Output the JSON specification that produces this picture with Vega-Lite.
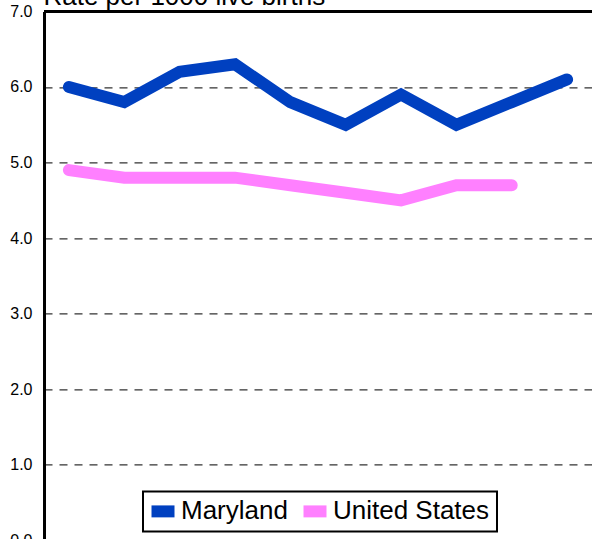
{
  "$schema": "https://vega.github.io/schema/vega-lite/v6.json",
  "width": 548,
  "height": 529,
  "autosize": {"type": "none"},
  "padding": {"left": 44, "top": 11.4, "right": 0, "bottom": 0},
  "background": "white",
  "config": {
    "view": {"stroke": null},
    "font": "Liberation Sans"
  },
  "data": {
    "values": [
      {"year": "2003", "area": "Maryland", "rate": 6.0},
      {"year": "2004", "area": "Maryland", "rate": 5.8},
      {"year": "2005", "area": "Maryland", "rate": 6.2},
      {"year": "2006", "area": "Maryland", "rate": 6.3},
      {"year": "2007", "area": "Maryland", "rate": 5.8},
      {"year": "2008", "area": "Maryland", "rate": 5.5},
      {"year": "2009", "area": "Maryland", "rate": 5.9},
      {"year": "2010", "area": "Maryland", "rate": 5.5},
      {"year": "2011", "area": "Maryland", "rate": 5.8},
      {"year": "2012", "area": "Maryland", "rate": 6.1},
      {"year": "2003", "area": "United States", "rate": 4.9},
      {"year": "2004", "area": "United States", "rate": 4.8},
      {"year": "2005", "area": "United States", "rate": 4.8},
      {"year": "2006", "area": "United States", "rate": 4.8},
      {"year": "2007", "area": "United States", "rate": 4.7},
      {"year": "2008", "area": "United States", "rate": 4.6},
      {"year": "2009", "area": "United States", "rate": 4.5},
      {"year": "2010", "area": "United States", "rate": 4.7},
      {"year": "2011", "area": "United States", "rate": 4.7}
    ]
  },
  "layer": [
    {
      "mark": {"type": "line", "strokeWidth": 12, "strokeCap": "round", "strokeJoin": "miter"},
      "encoding": {
        "x": {
          "field": "year", "type": "ordinal",
          "scale": {"type": "point", "padding": 0.45},
          "axis": {"title": null, "domain": false, "ticks": false, "labelFontSize": 16, "labelColor": "black", "labelAngle": 0, "labelPadding": 10}
        },
        "y": {
          "field": "rate", "type": "quantitative",
          "scale": {"domain": [0, 7], "nice": false},
          "axis": {
            "title": "Rate per 1000 live births",
            "titleAngle": 0, "titleAlign": "left", "titleBaseline": "alphabetic",
            "titleX": -1, "titleY": -7, "titleFontSize": 26, "titleFontWeight": "normal", "titleColor": "black",
            "values": [0, 1, 2, 3, 4, 5, 6, 7],
            "format": ".1f",
            "labelFontSize": 16, "labelColor": "black", "labelPadding": 12,
            "ticks": false,
            "domainColor": "black", "domainWidth": 3,
            "grid": true, "gridColor": "#333333", "gridDash": [8, 7], "gridWidth": 1.2, "gridOpacity": 1
          }
        },
        "color": {
          "field": "area", "type": "nominal",
          "scale": {"domain": ["Maryland", "United States"], "range": ["#0040C0", "#FF80FF"]},
          "legend": {
            "title": null,
            "orient": "none", "legendX": 99, "legendY": 480,
            "direction": "horizontal",
            "symbolType": "M-1,-0.52H1V0.52H-1Z",
            "symbolSize": 529,
            "symbolStrokeWidth": 0,
            "labelFontSize": 26, "labelColor": "black", "labelOffset": 5,
            "columnPadding": 14,
            "padding": 7,
            "strokeColor": "black", "fillColor": "white",
            "encode": {
              "legend": {"update": {"strokeWidth": {"value": 2}}},
              "symbols": {"update": {"fill": {"scale": "color", "field": "value"}, "fillOpacity": {"value": 1}}}
            }
          }
        }
      }
    },
    {
      "mark": {"type": "rule", "color": "black", "strokeWidth": 3},
      "encoding": {"y": {"datum": 7}}
    }
  ]
}
